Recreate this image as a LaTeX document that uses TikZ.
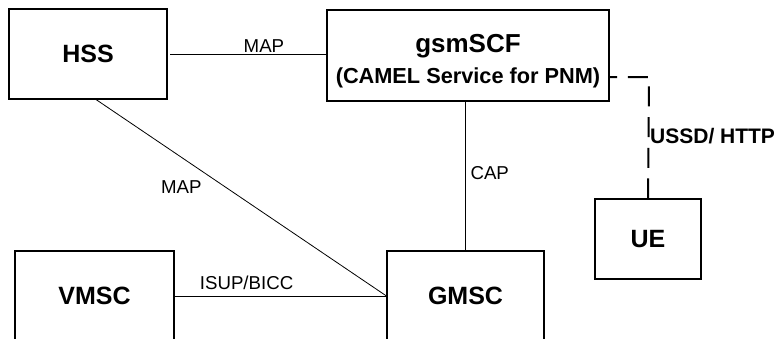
\documentclass[tikz,border=0pt]{standalone}
\usepackage{fontspec}
\setmainfont{Liberation Sans}

\begin{document}
\begin{tikzpicture}[x=0.75pt, y=-0.75pt,
    entity/.style={draw, line width=0.8pt, inner sep=0pt, font=\fontsize{18.75}{22}\selectfont\bfseries},
    iface/.style={line width=0.6pt},
    iflabel/.style={font=\fontsize{14}{16}\selectfont, inner sep=0.5pt},
    ussd/.style={line width=1.5pt, dash pattern=on 15pt off 8pt}]

    % Frame (the lower boxes run off the bottom edge)
    \useasboundingbox (0,0) rectangle (776,340);
    \clip (0,0) rectangle (776,338);

    % Network entities
    \node[entity, minimum width=118.5pt, minimum height=67.5pt] (hss) at (88,54) {HSS};
    \node[entity, minimum width=211.5pt, minimum height=68.25pt, align=center,
        font=\fontsize{16.3}{23.25}\selectfont\bfseries] (scf) at (468,55.5)
        {\rule{0pt}{21.5pt}{\fontsize{19.5}{23.25}\selectfont gsmSCF}\\(CAMEL Service for PNM)};
    \node[entity, minimum width=119.25pt, minimum height=67.5pt] (vmsc) at (94.5,296) {VMSC};
    \node[entity, minimum width=117.75pt, minimum height=67.5pt] (gmsc) at (465.5,296) {GMSC};
    \node[entity, minimum width=79.5pt, minimum height=60pt] (ue) at (648,239) {UE};

    % Interfaces
    \draw[iface] ([xshift=2pt]hss.east) -- node[iflabel, above, pos=0.6] {MAP} (hss.east -| scf.west);
    \draw[iface] (hss.-80) -- node[iflabel, left=17.5pt, pos=0.447] {MAP} (gmsc.west);
    \draw[iface] (vmsc.east) -- node[iflabel, above=4pt, pos=0.34] {ISUP/BICC} (gmsc.west);
    \draw[iface] (gmsc.north) -- node[iflabel, right=3pt, pos=0.52] {CAP} (gmsc.north |- scf.south);

    % USSD / HTTP towards the UE
    \coordinate (bend) at (649,77);
    \draw[ussd] (ue.north) -- node[right, pos=0.51, inner sep=0.5pt, font=\fontsize{15.75}{18}\selectfont\bfseries] {USSD/ HTTP}
        (bend) -- (scf.east |- bend);

\end{tikzpicture}
\end{document}
